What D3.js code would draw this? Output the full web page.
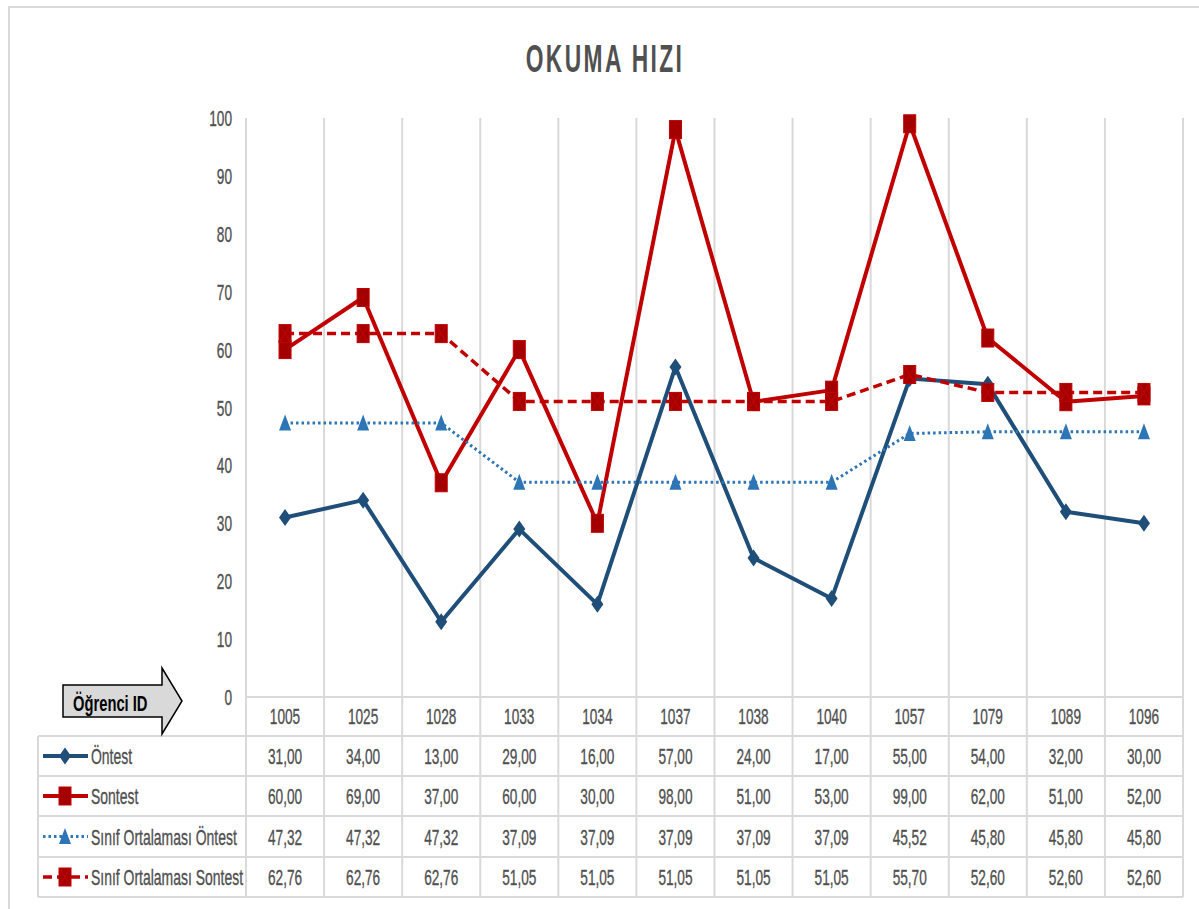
<!DOCTYPE html>
<html>
<head>
<meta charset="utf-8">
<script src="https://cdn.jsdelivr.net/npm/d3@7"></script>
<style>
  body { margin: 0; background: #fff; }
  text { font-family: "Liberation Sans", Arial, sans-serif; fill: #505050; }
</style>
</head>
<body>
<div id="chart"></div>
<script>
const categories = ["1005", "1025", "1028", "1033", "1034", "1037", "1038", "1040", "1057", "1079", "1089", "1096"];
const ontest = [31, 34, 13, 29, 16, 57, 24, 17, 55, 54, 32, 30];
const sontest = [60, 69, 37, 60, 30, 98, 51, 53, 99, 62, 51, 52];
const ortOntest = [47.32, 47.32, 47.32, 37.09, 37.09, 37.09, 37.09, 37.09, 45.52, 45.80, 45.80, 45.80];
const ortSontest = [62.76, 62.76, 62.76, 51.05, 51.05, 51.05, 51.05, 51.05, 55.70, 52.60, 52.60, 52.60];
const yTicks = [0, 10, 20, 30, 40, 50, 60, 70, 80, 90, 100];

const series = [
    { name: "Öntest", values: ontest, color: "#1f4e79", width: 4, dash: null, marker: "diamond", mfill: "#1f4e79" },
    { name: "Sontest", values: sontest, color: "#c00000", width: 4, dash: null, marker: "square", mfill: "#a50000" },
    { name: "Sınıf Ortalaması Öntest", values: ortOntest, color: "#2e75b6", width: 3, dash: "2.5,3", marker: "triangle", mfill: "#2e75b6" },
    { name: "Sınıf Ortalaması Sontest", values: ortSontest, color: "#c00000", width: 3.5, dash: "9,5", marker: "xsquare", mfill: "#a50000" }
];

const W = 1199, H = 909;
const plotTop = 118, plotBottom = 697, plotLeft = 246, plotRight = 1183;
const tableLeft = 38;
const rowLines = [736, 776, 816, 857, 897];
const SX = 0.62; // squeeze text horizontally to look like a narrow font
const FS = 22;

const svg = d3.select("#chart")
    .append("svg")
    .attr("width", W)
    .attr("height", H);

// text helper, narrowed with a horizontal scale
function label(g, tx, ty, str, size, anchor, sx) {
    return g.append("text")
        .attr("transform", `translate(${tx},${ty}) scale(${sx || SX},1)`)
        .attr("text-anchor", anchor || "start")
        .style("font-size", size + "px")
        .style("stroke", "#505050")
        .style("stroke-width", 0.35)
        .text(str);
}

// chart frame
svg.append("rect")
    .attr("x", 9).attr("y", 7)
    .attr("width", 1300).attr("height", 1000)
    .attr("fill", "none")
    .attr("stroke", "#d9d9d9")
    .attr("stroke-width", 2);

// title
label(svg, 605, 72, "OKUMA HIZI", 38, "middle", 0.6)
    .style("font-weight", "bold")
    .style("letter-spacing", "4px")
    .style("stroke", "none");

const x = d3.scaleBand()
    .domain(categories)
    .range([plotLeft, plotRight]);

const y = d3.scaleLinear()
    .domain([0, 100])
    .range([plotBottom, plotTop]);

const grid = svg.append("g").attr("stroke", "#d9d9d9").attr("stroke-width", 2);

// vertical gridlines (band edges), running through the data table
const edges = categories.map(c => x(c)).concat([plotRight]);
grid.selectAll("line.v")
    .data(edges)
    .enter()
    .append("line")
    .attr("x1", d => d).attr("x2", d => d)
    .attr("y1", plotTop).attr("y2", rowLines[rowLines.length - 1]);

// x axis line
grid.append("line")
    .attr("x1", plotLeft).attr("x2", plotRight)
    .attr("y1", plotBottom).attr("y2", plotBottom);

// table horizontal lines
grid.selectAll("line.h")
    .data(rowLines)
    .enter()
    .append("line")
    .attr("x1", tableLeft).attr("x2", plotRight)
    .attr("y1", d => d).attr("y2", d => d);

grid.append("line")
    .attr("x1", tableLeft).attr("x2", tableLeft)
    .attr("y1", rowLines[0]).attr("y2", rowLines[rowLines.length - 1]);

// y axis labels
const yg = svg.append("g");
yTicks.forEach(t => label(yg, 232, y(t) + 8, t, FS, "end"));

// category labels
const cg = svg.append("g");
categories.forEach(c => label(cg, x(c) + x.bandwidth() / 2, 724, c, FS, "middle"));

// arrow "Öğrenci ID"
svg.append("path")
    .attr("d", "M63,685 L162,685 L162,668 L182,701 L162,734 L162,717 L63,717 Z")
    .attr("fill", "#d9d9d9")
    .attr("stroke", "#000")
    .attr("stroke-width", 1.5);

label(svg, 73, 711, "Öğrenci ID", 22, "start", 0.67)
    .style("font-weight", "bold")
    .style("fill", "#000")
    .style("stroke", "none");

function drawMarker(g, s, cx, cy) {
    if (s.marker === "diamond") {
        g.append("path")
            .attr("d", `M${cx},${cy - 8.5} L${cx + 6},${cy} L${cx},${cy + 8.5} L${cx - 6},${cy} Z`)
            .attr("fill", s.mfill);
    } else if (s.marker === "square" || s.marker === "xsquare") {
        g.append("rect")
            .attr("x", cx - 6).attr("y", cy - 9)
            .attr("width", 12).attr("height", 18)
            .attr("fill", s.mfill)
            .attr("stroke", "#c00000")
            .attr("stroke-width", 1);
        if (s.marker === "xsquare") {
            g.append("path")
                .attr("d", `M${cx - 5},${cy - 8} L${cx + 5},${cy + 8} M${cx + 5},${cy - 8} L${cx - 5},${cy + 8}`)
                .attr("stroke", "#c00000")
                .attr("stroke-width", 1.2);
        }
    } else if (s.marker === "triangle") {
        g.append("path")
            .attr("d", `M${cx},${cy - 8.5} L${cx + 6},${cy + 7.5} L${cx - 6},${cy + 7.5} Z`)
            .attr("fill", s.mfill);
    }
}

const line = d3.line()
    .x((d, i) => x(categories[i]) + x.bandwidth() / 2)
    .y(d => y(d));

// series lines and markers
series.forEach(s => {
    const g = svg.append("g");
    g.append("path")
        .datum(s.values)
        .attr("d", line)
        .attr("fill", "none")
        .attr("stroke", s.color)
        .attr("stroke-width", s.width)
        .attr("stroke-dasharray", s.dash)
        .attr("stroke-linejoin", "round");
    s.values.forEach((v, i) => {
        drawMarker(g, s, x(categories[i]) + x.bandwidth() / 2, y(v));
    });
});

// data table rows
const fmt = v => v.toFixed(2).replace(".", ",");
series.forEach((s, r) => {
    const cy = (rowLines[r] + rowLines[r + 1]) / 2;
    const g = svg.append("g");
    // legend key
    g.append("line")
        .attr("x1", 43).attr("x2", 88)
        .attr("y1", cy).attr("y2", cy)
        .attr("stroke", s.color)
        .attr("stroke-width", s.width)
        .attr("stroke-dasharray", s.dash);
    drawMarker(g, s, 65, cy);
    label(g, 91, cy + 8, s.name, FS, "start", 0.635);
    s.values.forEach((v, i) => {
        label(g, x(categories[i]) + x.bandwidth() / 2, cy + 8, fmt(v), FS, "middle");
    });
});
</script>
</body>
</html>
